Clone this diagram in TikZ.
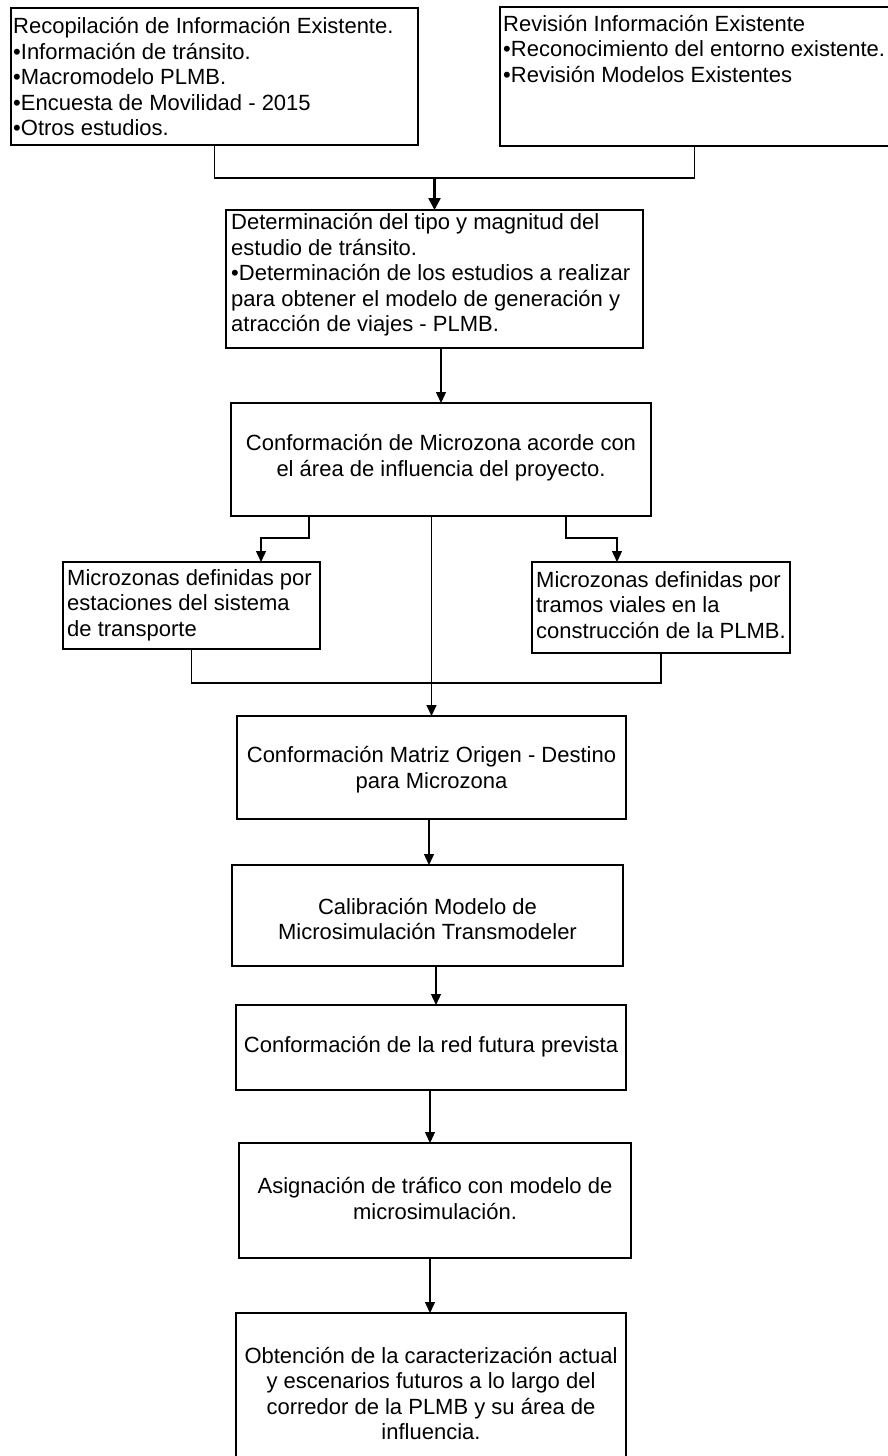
\documentclass[tikz,border=0pt]{standalone}
\usepackage{fontspec}
\setmainfont{Liberation Sans}
\usetikzlibrary{arrows.meta}
\begin{document}
\begin{tikzpicture}[x=1pt,y=-1pt,
  box/.style={draw, line width=1.3pt, inner sep=0pt, outer sep=0pt, anchor=north west},
  txt/.style={inner sep=0pt, font=\fontsize{22}{25.5}\selectfont},
  con/.style={line width=1.3pt},
  arr/.style={con, -{Triangle[width=10pt,length=11pt]}},
  boldarr/.style={line width=2.4pt, -{Triangle[width=12pt,length=12pt]}}]
\path[use as bounding box] (0,0) rectangle (888,1456);
\fill[white] (0,0) rectangle (888,1456);
\clip (0,0) rectangle (888,1456);

% boxes
\node[box, minimum width=407pt, minimum height=137pt] (A) at (11,8) {};
\node[box, minimum width=389pt, minimum height=139pt] (B) at (500,7) {};
\node[box, minimum width=417pt, minimum height=138pt] (C) at (226,210) {};
\node[box, minimum width=420pt, minimum height=113pt] (D) at (231,403) {};
\node[box, minimum width=257pt, minimum height=87pt] (E) at (63,562) {};
\node[box, minimum width=258pt, minimum height=91pt] (F) at (532,562) {};
\node[box, minimum width=389pt, minimum height=103pt] (G) at (237,716) {};
\node[box, minimum width=391pt, minimum height=101pt] (H) at (232,865) {};
\node[box, minimum width=390pt, minimum height=85pt] (I) at (236,1005) {};
\node[box, minimum width=392pt, minimum height=115pt] (J) at (239,1143) {};
\node[box, minimum width=390pt, minimum height=161pt] (K) at (236,1313) {};

% texts
\node[txt, anchor=west, align=left] (At) at (13,77) {Recopilación de Información Existente.\\•Información de tránsito.\\•Macromodelo PLMB.\\•Encuesta de Movilidad - 2015\\•Otros estudios.};
\node[txt, anchor=west, align=left] (Bt) at (503,49) {Revisión Información Existente\\•Reconocimiento del entorno existente.\\•Revisión Modelos Existentes};
\node[txt, anchor=west, align=left] (Ct) at (231,275) {Determinación del tipo y magnitud del\\estudio de tránsito.\\•Determinación de los estudios a realizar\\para obtener el modelo de generación y\\atracción de viajes - PLMB.};
\node[txt, align=center] (Dt) at (441,457.5) {Conformación de Microzona acorde con\\el área de influencia del proyecto.};
\node[txt, anchor=west, align=left] (Et) at (67,605) {Microzonas definidas por\\estaciones del sistema\\de transporte};
\node[txt, anchor=west, align=left] (Ft) at (536,605) {Microzonas definidas por\\tramos viales en la\\construcción de la PLMB.};
\node[txt, align=center] (Gt) at (431.5,769.5) {Conformación Matriz Origen - Destino\\para Microzona};
\node[txt, align=center] (Ht) at (427.5,919) {Calibración Modelo de\\Microsimulación Transmodeler};
\node[txt, align=center] (It) at (431,1047) {Conformación de la red futura prevista};
\node[txt, align=center] (Jt) at (435,1198.5) {Asignación de tráfico con modelo de\\microsimulación.};
\node[txt, align=center] (Kt) at (431,1393.5) {Obtención de la caracterización actual\\y escenarios futuros a lo largo del\\corredor de la PLMB y su área de\\influencia.};

% connectors
\coordinate (jAB) at (434.5,178);
\draw[con] (A.south) |- (jAB);
\draw[con] (B.south) |- (jAB);
\draw[boldarr] (jAB) -- (C.north);

\draw[arr] (C.south -| D.north) -- (D.north);

\coordinate (dl) at (309,538);
\coordinate (el) at (261,538);
\draw[arr] (D.south -| dl) -- (dl) -- (el) -- (E.north -| el);
\coordinate (dr) at (566,538);
\coordinate (fr) at (617,538);
\draw[arr] (D.south -| dr) -- (dr) -- (fr) -- (F.north -| fr);

\draw[arr] (D.south -| G.north) -- (G.north);
\coordinate (mid) at (431.5,683);
\draw[con] (E.south) |- (mid);
\draw[con] (F.south) |- (mid);

\coordinate (xGH) at (429,0);
\coordinate (xHI) at (436,0);
\coordinate (xIJ) at (430,0);
\coordinate (xJK) at (430,0);
\draw[arr] (G.south -| xGH) -- (H.north -| xGH);
\draw[arr] (H.south -| xHI) -- (I.north -| xHI);
\draw[arr] (I.south -| xIJ) -- (J.north -| xIJ);
\draw[arr] (J.south -| xJK) -- (K.north -| xJK);
\end{tikzpicture}
\end{document}
